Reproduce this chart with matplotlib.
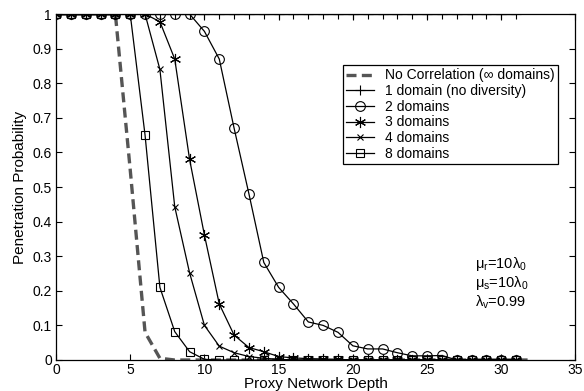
import numpy as np
import matplotlib.pyplot as plt

plt.rcParams['font.family'] = ['Liberation Sans', 'DejaVu Sans']
plt.rcParams['mathtext.fontset'] = 'custom'
plt.rcParams['mathtext.rm'] = 'Liberation Sans'
plt.rcParams['mathtext.it'] = 'Liberation Sans'

depth = np.arange(0, 32)
depth_nc = np.arange(0, 33)

no_corr = [1, 1, 1, 1, 1, 0.55, 0.08, 0.005] + [0] * 25
one_dom = [1] * 32
two_dom = [1] * 10 + [0.95, 0.87, 0.67, 0.48, 0.282, 0.21, 0.162, 0.11, 0.10, 0.08,
                      0.041, 0.032, 0.032, 0.021, 0.012, 0.012, 0.013] + [0] * 5
three_dom = [1] * 7 + [0.978, 0.87, 0.58, 0.361, 0.162, 0.072, 0.036, 0.024, 0.01,
                       0.006, 0.004, 0.003, 0.002] + [0] * 12
four_dom = [1] * 7 + [0.84, 0.443, 0.252, 0.10, 0.04, 0.021, 0.01, 0.005, 0.002] + [0] * 16
eight_dom = [1] * 6 + [0.65, 0.21, 0.082, 0.024, 0.002] + [0] * 21

fig = plt.figure(figsize=(5.84, 3.91), dpi=100)
ax = fig.add_axes([0.0959, 0.0793, 0.8895, 0.8847])

mk = dict(color='black', linewidth=0.9, markerfacecolor='none', markeredgewidth=0.8)
ax.plot(depth_nc, no_corr, '--', color='#555555', linewidth=2.4, dashes=(3, 1.6),
        label='No Correlation (\u221e domains)')
ax.plot(depth, one_dom, marker='+', markersize=7, label='1 domain (no diversity)', **mk)
ax.plot(depth, two_dom, marker='o', markersize=7, label='2 domains', **mk)
ax.plot(depth, three_dom, marker=(6, 2, 0), markersize=8, label='3 domains', **mk)
ax.plot(depth, four_dom, marker='x', markersize=5, label='4 domains', **mk)
ax.plot(depth, eight_dom, marker='s', markersize=6, label='8 domains', **mk)

ax.set_xlim(0, 35)
ax.set_ylim(0, 1)
ax.set_xticks(range(0, 36, 5))
ax.set_yticks(np.arange(0, 1.01, 0.1))
ax.set_yticklabels(['0', '0.1', '0.2', '0.3', '0.4', '0.5', '0.6', '0.7', '0.8', '0.9', '1'])
ax.tick_params(direction='in', top=True, right=True, labelsize=10, length=4)
ax.tick_params(axis='x', pad=2)
ax.tick_params(axis='y', pad=3)
for s in ax.spines.values():
    s.set_linewidth(0.9)

ax.set_xlabel('Proxy Network Depth', fontsize=11, labelpad=0)
ax.set_ylabel('Penetration Probability', fontsize=11, labelpad=4)

leg = ax.legend(loc='upper left', bbox_to_anchor=(0.552, 0.853), fontsize=10,
                frameon=True, fancybox=False, edgecolor='black', framealpha=1,
                labelspacing=0.12, handlelength=2.0, borderpad=0.25, handletextpad=0.8,
                borderaxespad=0)
leg.get_frame().set_linewidth(0.9)

ax.text(28.2, 0.265, r'$\mu_r$=10$\lambda_0$', fontsize=10.5)
ax.text(28.2, 0.21, r'$\mu_s$=10$\lambda_0$', fontsize=10.5)
ax.text(28.2, 0.155, r'$\lambda_v$=0.99', fontsize=10.5)

fig.savefig('out.png', dpi=100)
